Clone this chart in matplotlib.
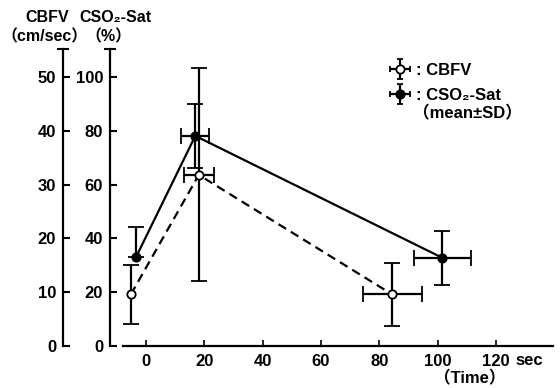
import numpy as np
import matplotlib
matplotlib.use("Agg")
import matplotlib.pyplot as plt
from matplotlib.legend_handler import HandlerErrorbar
from matplotlib.lines import Line2D

plt.rcParams['font.family'] = ['Liberation Sans', 'Noto Sans CJK JP', 'DejaVu Sans']
plt.rcParams['font.weight'] = 'bold'

# Data (time in sec)
cbfv_time = [-5.2, 18.1, 84.4]
cbfv_time_sd = [np.nan, 5.1, 10.1]
cbfv_mean = [9.6, 31.8, 9.6]          # cm/sec
cbfv_sd = [5.5, 19.8, 5.8]

cso2_time = [-3.4, 16.9, 101.6]
cso2_time_sd = [np.nan, 4.8, 9.8]
cso2_mean = [33.1, 78.1, 32.8]        # %
cso2_sd_low = [0.0, 12.0, 10.0]
cso2_sd_high = [11.0, 12.0, 10.0]

x_ticks = [0, 20, 40, 60, 80, 100, 120]
cbfv_ticks = [0, 10, 20, 30, 40, 50]
cso2_ticks = [0, 20, 40, 60, 80, 100]

fig = plt.figure(figsize=(5.6, 3.88), dpi=100)
pos = [123 / 560, 42 / 388, 430 / 560, 297 / 388]

# CSO2-Sat axis (inner) carries the time axis
ax = fig.add_axes(pos)
ax.set_xlim(-7.9, 139.6)
ax.set_ylim(0, 110.4)
for s in ['top', 'right']:
    ax.spines[s].set_visible(False)
ax.spines['left'].set_position(('axes', -13 / 430))
ax.spines['left'].set_linewidth(1.6)
ax.spines['bottom'].set_linewidth(1.6)
ax.set_xticks(x_ticks)
ax.set_yticks(cso2_ticks)
ax.set_yticks([110.4], minor=True)
ax.tick_params(axis='x', direction='in', length=4, width=1.2, pad=6, labelsize=12)
ax.tick_params(axis='y', direction='in', length=5, width=1.5, pad=5, labelsize=12)
ax.tick_params(axis='y', which='minor', direction='inout', length=8, width=1.5)

# CBFV axis (outer)
ax2 = fig.add_axes(pos, sharex=ax)
ax2.patch.set_visible(False)
ax2.set_ylim(0, 55.2)
for s in ['top', 'right', 'bottom']:
    ax2.spines[s].set_visible(False)
ax2.spines['left'].set_position(('axes', -60 / 430))
ax2.spines['left'].set_linewidth(1.6)
ax2.set_yticks(cbfv_ticks)
ax2.set_yticks([55.2], minor=True)
ax2.tick_params(axis='x', which='both', bottom=False, labelbottom=False)
ax2.tick_params(axis='y', direction='in', length=5, width=1.5, pad=5, labelsize=12)
ax2.tick_params(axis='y', which='minor', direction='inout', length=8, width=1.5)

# lines
ax.plot(cso2_time, cso2_mean, color='black', lw=1.6, zorder=2)
ax2.plot(cbfv_time, cbfv_mean, color='black', lw=1.6, ls=(0, (4, 2.5)), zorder=2)

eb_kw = dict(ecolor='black', elinewidth=1.6, capsize=6, capthick=1.5,
             markeredgecolor='black', markeredgewidth=1.3, markersize=6, zorder=3)
h_cso2 = ax.errorbar(cso2_time, cso2_mean, yerr=[cso2_sd_low, cso2_sd_high],
                     xerr=cso2_time_sd, fmt='o', markerfacecolor='black', **eb_kw)
h_cbfv = ax2.errorbar(cbfv_time, cbfv_mean, yerr=cbfv_sd, xerr=cbfv_time_sd,
                      fmt='o', markerfacecolor='white', **eb_kw)

leg = ax2.legend([h_cbfv, h_cso2], [': CBFV', ': CSO₂-Sat'],
                 loc='upper left', bbox_to_anchor=(0.6, 0.98), frameon=False,
                 borderpad=0, handlelength=1.3, handletextpad=0.3, labelspacing=0.6,
                 prop=dict(size=12, weight='bold'),
                 handler_map={type(h_cbfv): HandlerErrorbar(xerr_size=0.6, yerr_size=0.6)})
for ln in leg.findobj(Line2D):
    if ln.get_marker() in ('|', '_'):
        ln.set_markersize(4)
ax.text(0.675, 0.785, '（mean±SD）', transform=ax.transAxes, fontsize=12,
        fontweight='bold', va='center', ha='left')

# labels
ax.text(0.912, -0.064, 'sec', transform=ax.transAxes, fontsize=12,
        fontweight='bold', va='baseline', ha='left')
ax.text(0.807, -0.108, '（Time）', transform=ax.transAxes, fontsize=12,
        fontweight='bold', va='center', ha='center')
fig.text(0.085, 0.956, 'CBFV', fontsize=11.5, fontweight='bold', ha='center', va='center')
fig.text(0.080, 0.905, '（cm/sec）', fontsize=11.5, fontweight='bold', ha='center', va='center')
fig.text(0.207, 0.956, 'CSO₂-Sat', fontsize=11.5, fontweight='bold', ha='center', va='center')
fig.text(0.193, 0.905, '（%）', fontsize=11.5, fontweight='bold', ha='center', va='center')

fig.savefig('out.png', dpi=100)
